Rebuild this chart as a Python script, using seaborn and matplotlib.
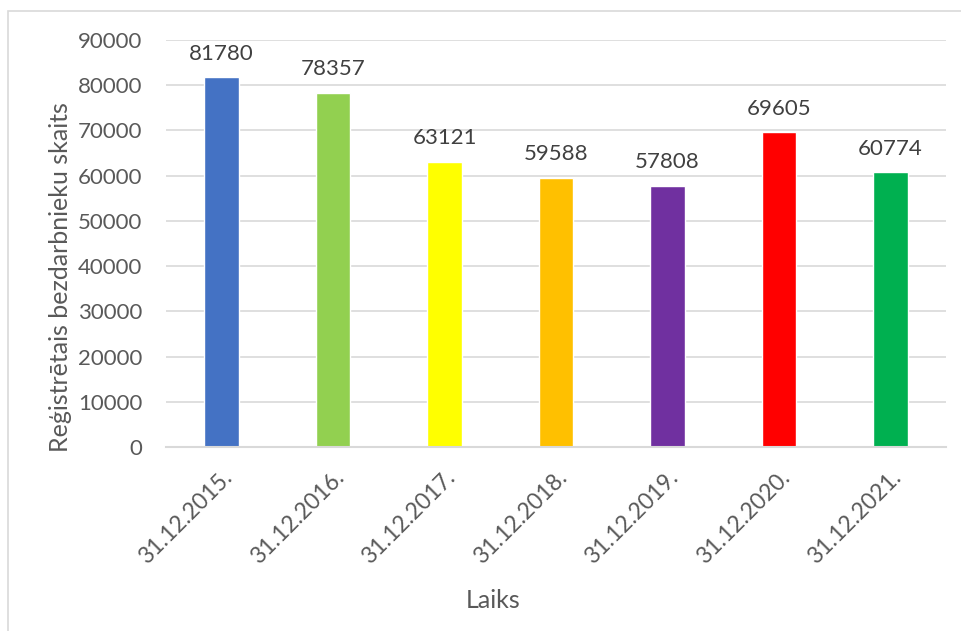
import matplotlib
matplotlib.use("Agg")
import matplotlib.pyplot as plt
import seaborn as sns
import pandas as pd
from matplotlib.patches import Rectangle

categories = ["31.12.2015.", "31.12.2016.", "31.12.2017.", "31.12.2018.",
              "31.12.2019.", "31.12.2020.", "31.12.2021."]
values = [81780, 78357, 63121, 59588, 57808, 69605, 60774]
colors = ["#4472C4", "#92D050", "#FFFF00", "#FFC000", "#7030A0", "#FF0000", "#00B050"]
yticks = [0, 10000, 20000, 30000, 40000, 50000, 60000, 70000, 80000, 90000]

sns.set_theme(style="white")
plt.rcParams['font.family'] = ['Lato', 'DejaVu Sans']

df = pd.DataFrame({"Laiks": categories, "val": values})

fig = plt.figure(figsize=(9.61, 6.31), dpi=100)
W, H = 961, 631
ax = fig.add_axes([166 / W, 1 - 447 / H, (946 - 166) / W, (447 - 40) / H])

sns.barplot(data=df, x="Laiks", y="val", hue="Laiks", palette=colors,
            legend=False, width=0.31, ax=ax, saturation=1)

ax.set_ylim(0, 90000)
ax.set_xlim(-0.5, 6.5)
ax.set_yticks(yticks)
ax.set_yticklabels([str(v) for v in yticks])
ax.yaxis.grid(True, color="#d9d9d9", linewidth=1.2)
ax.set_axisbelow(True)
for s in ["top", "right", "left"]:
    ax.spines[s].set_visible(False)
ax.spines["bottom"].set_color("#d9d9d9")
ax.spines["bottom"].set_linewidth(1.5)
ax.tick_params(axis="y", length=0, pad=17, labelsize=16, labelcolor="#595959")
ax.tick_params(axis="x", length=0, pad=14, labelsize=16.5, labelcolor="#595959")
for lab in ax.get_xticklabels():
    lab.set_rotation(45)
    lab.set_ha("right")
    lab.set_rotation_mode("anchor")

for i, v in enumerate(values):
    ax.text(i, v + 3000, str(v), ha="center", va="bottom", fontsize=16, color="#404040")

ax.set_xlabel("Laiks", fontsize=18, color="#595959")
ax.xaxis.set_label_coords(0.419, -0.35)
ax.set_ylabel("Reģistrētais bezdarbnieku skaits", fontsize=18, color="#595959")
ax.yaxis.set_label_coords(-0.121, 0.418)

fig.patches.append(Rectangle((8 / W, -0.1), 1.2, 1 - 11 / H + 0.1, transform=fig.transFigure,
                             fill=False, edgecolor="#d9d9d9", linewidth=1.2))

fig.savefig("out.png", dpi=100, facecolor="white")
